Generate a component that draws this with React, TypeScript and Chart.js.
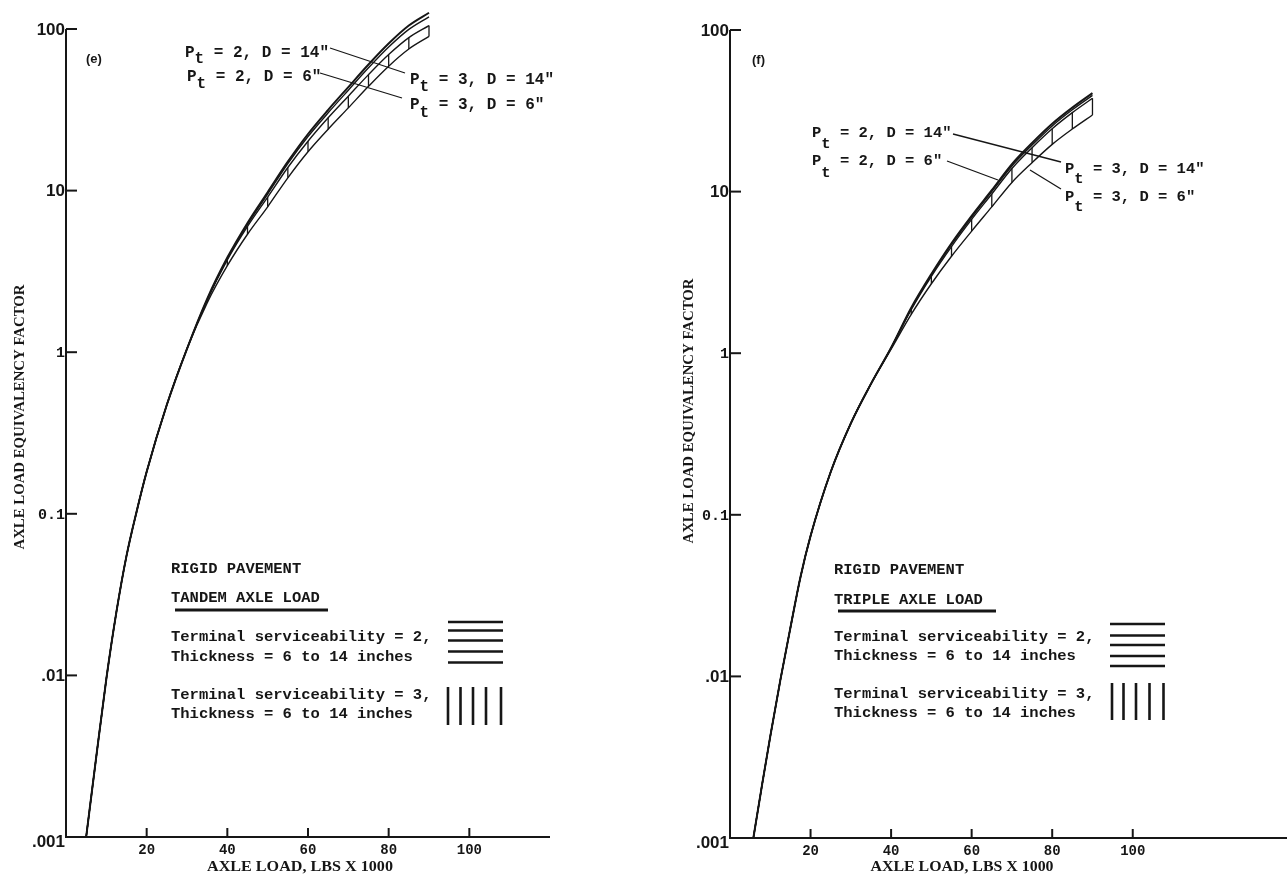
import React, { useEffect, useRef } from "react";
import { Chart, registerables } from "chart.js";

Chart.register(...registerables);

// ---------- shared axis data ----------
const xTickValues = [20, 40, 60, 80, 100];
const yTickValues = [0.001, 0.01, 0.1, 1, 10, 100];
const yTickLabels = [".001", ".01", "0.1", "1", "10", "100"];
const seriesNames = ['Pt = 2, D = 14"', 'Pt = 2, D = 6"', 'Pt = 3, D = 14"', 'Pt = 3, D = 6"'];

// ---------- (e) tandem axle ----------
const tandemLoads = [5, 7.5, 10, 12.5, 15, 17.5, 20, 25, 30, 35, 40, 45, 50, 55, 60, 65, 70, 75, 80, 85, 90];
const tandemPt2D14 = [0.001, 0.00313, 0.00951, 0.0247, 0.0549, 0.103, 0.182, 0.473, 1.05, 2.14, 3.85, 6.31, 9.77, 15.1, 22.4, 31.6, 43.7, 60.3, 81.3, 105, 126];
const tandemPt2D6 = [0.001, 0.00313, 0.00951, 0.0247, 0.0549, 0.103, 0.182, 0.473, 1.05, 2.12, 3.79, 6.18, 9.51, 14.7, 21.6, 30.3, 41.8, 57.5, 77.4, 99.5, 119];
const tandemPt3D14 = [0.001, 0.00313, 0.00951, 0.0247, 0.0549, 0.103, 0.182, 0.473, 1.05, 2.1, 3.72, 6.0, 9.12, 13.9, 20.2, 28.2, 38.4, 52.2, 69.5, 88.5, 105];
const tandemPt3D6 = [0.001, 0.00313, 0.00951, 0.0247, 0.0549, 0.103, 0.182, 0.473, 1.05, 2.02, 3.43, 5.37, 7.94, 12.0, 17.4, 24.0, 32.5, 44.2, 58.9, 75.2, 90];

// ---------- (f) triple axle ----------
const tripleLoads = [5.8, 8, 10, 12.5, 15, 17.5, 20, 25, 30, 35, 40, 45, 50, 55, 60, 65, 70, 75, 80, 85, 90];
const triplePt2D14 = [0.001, 0.00216, 0.00425, 0.00948, 0.02, 0.0412, 0.0739, 0.184, 0.368, 0.646, 1.08, 1.91, 3.09, 4.79, 7.08, 10.2, 14.8, 20.0, 26.3, 33.1, 40.7];
const triplePt2D6 = [0.001, 0.00216, 0.00425, 0.00948, 0.02, 0.0412, 0.0739, 0.184, 0.368, 0.646, 1.08, 1.89, 3.05, 4.71, 6.93, 10.0, 14.4, 19.4, 25.5, 32.1, 39.4];
const triplePt3D14 = [0.001, 0.00216, 0.00425, 0.00948, 0.02, 0.0412, 0.0739, 0.184, 0.368, 0.646, 1.08, 1.86, 2.99, 4.57, 6.73, 9.66, 13.9, 18.7, 24.5, 30.8, 37.8];
const triplePt3D6 = [0.001, 0.00216, 0.00425, 0.00948, 0.02, 0.0412, 0.0739, 0.184, 0.368, 0.646, 1.06, 1.74, 2.69, 3.98, 5.69, 8.04, 11.4, 15.1, 19.6, 24.4, 29.8];

// ---------- text ----------
const xTitle = "AXLE LOAD, LBS X 1000";
const yTitle = "AXLE LOAD EQUIVALENCY FACTOR";
const tandemLegend = ["RIGID PAVEMENT", "TANDEM AXLE LOAD", "Terminal serviceability = 2,", "Thickness = 6 to 14 inches", "Terminal serviceability = 3,", "Thickness = 6 to 14 inches"];
const tripleLegend = ["RIGID PAVEMENT", "TRIPLE AXLE LOAD", "Terminal serviceability = 2,", "Thickness = 6 to 14 inches", "Terminal serviceability = 3,", "Thickness = 6 to 14 inches"];

const INK = "#161616";
const MONO = '"Liberation Mono", "DejaVu Sans Mono", monospace';
const SANS = '"Liberation Sans", Arial, sans-serif';
const SERIF = '"Liberation Serif", "DejaVu Serif", serif';

type Panel = {
  tag: string;
  loads: number[];
  series: number[][];
  legend: string[];
  hatchFrom: number;
  left: number; // page x of canvas
  w: number;
  h: number;
  xMax: number;
  yAxisW: number;
  xAxisH: number;
  padTop: number;
  padRight: number;
  layout: any;
};

const tandemPanel: Panel = {
  tag: "(e)",
  loads: tandemLoads,
  series: [tandemPt2D14, tandemPt2D6, tandemPt3D14, tandemPt3D6],
  legend: tandemLegend,
  hatchFrom: 35,
  left: 0,
  w: 560,
  h: 876,
  xMax: 120,
  yAxisW: 66,
  xAxisH: 39,
  padTop: 29,
  padRight: 10,
  layout: {
    tagPos: [86, 59],
    ptSize: 16,
    pt: [
      { x: 185, b: 57, sb: 63, rest: " = 2, D = 14\"" },
      { x: 187, b: 81, sb: 88, rest: " = 2, D = 6\"" },
      { x: 410, b: 84, sb: 91, rest: " = 3, D = 14\"" },
      { x: 410, b: 109, sb: 117, rest: " = 3, D = 6\"" },
    ],
    leaders: [
      [330, 48, 405, 73],
      [320, 73, 402, 98],
    ],
    legX: 171,
    legB: [573, 602, 641, 661, 699, 718],
    underline: [175, 328, 610],
    hLines: { x1: 448, x2: 503, ys: [622, 630.5, 640.5, 651.5, 662.5] },
    vLines: { xs: [448, 460.5, 473, 486, 501], y1: 687, y2: 725 },
    xTitle: { cx: 300, cy: 867, w: 186 },
    yTitle: { cx: 20, cy: 417, w: 265 },
  },
};

const triplePanel: Panel = {
  tag: "(f)",
  loads: tripleLoads,
  series: [triplePt2D14, triplePt2D6, triplePt3D14, triplePt3D6],
  legend: tripleLegend,
  hatchFrom: 45,
  left: 640,
  w: 647,
  h: 876,
  xMax: 138.3,
  yAxisW: 90,
  xAxisH: 38,
  padTop: 30,
  padRight: 0,
  layout: {
    tagPos: [752, 60],
    ptSize: 15.5,
    pt: [
      { x: 812, b: 137, sb: 148, rest: " = 2, D = 14\"" },
      { x: 812, b: 165, sb: 177, rest: " = 2, D = 6\"" },
      { x: 1065, b: 173, sb: 183, rest: " = 3, D = 14\"" },
      { x: 1065, b: 201, sb: 211, rest: " = 3, D = 6\"" },
    ],
    leaders: [
      [953, 134, 1061, 162],
      [947, 161, 998, 180],
      [1030, 170, 1061, 189],
    ],
    legX: 834,
    legB: [574, 604, 641, 660, 698, 717],
    underline: [838, 996, 611],
    hLines: { x1: 1110, x2: 1165, ys: [624, 635.5, 645, 656, 666] },
    vLines: { xs: [1112, 1123.5, 1136, 1149.5, 1163.5], y1: 683, y2: 720 },
    xTitle: { cx: 962, cy: 867, w: 183 },
    yTitle: { cx: 689, cy: 411, w: 265 },
  },
};

function fitText(ctx: CanvasRenderingContext2D, text: string, cx: number, cy: number, width: number, font: string, rotate = false) {
  ctx.save();
  ctx.font = font;
  ctx.textAlign = "center";
  ctx.textBaseline = "middle";
  const w = ctx.measureText(text).width;
  ctx.translate(cx, cy);
  if (rotate) ctx.rotate(-Math.PI / 2);
  ctx.scale(width / w, 1);
  ctx.fillText(text, 0, 0);
  ctx.restore();
}

function decorPlugin(p: Panel) {
  return {
    id: "decor" + p.tag,
    afterDatasetsDraw(chart: any) {
      const ctx: CanvasRenderingContext2D = chart.ctx;
      const xs = chart.scales.x;
      const ys = chart.scales.y;
      const a = chart.chartArea;
      const L = p.layout;
      const ox = p.left;
      ctx.save();
      ctx.strokeStyle = INK;
      ctx.fillStyle = INK;
      ctx.lineCap = "butt";

      // vertical hatching between the two Pt = 3 curves
      ctx.lineWidth = 1.3;
      p.loads.forEach((ld, j) => {
        if (ld < p.hatchFrom) return;
        const x = xs.getPixelForValue(ld);
        ctx.beginPath();
        ctx.moveTo(x, ys.getPixelForValue(p.series[2][j]));
        ctx.lineTo(x, ys.getPixelForValue(p.series[3][j]));
        ctx.stroke();
      });

      // axes
      ctx.lineWidth = 2;
      ctx.beginPath();
      ctx.moveTo(a.left, a.top);
      ctx.lineTo(a.left, a.bottom);
      ctx.lineTo(a.right, a.bottom);
      ctx.stroke();

      // y ticks + labels
      yTickValues.forEach((v, i) => {
        const y = ys.getPixelForValue(v);
        if (i > 0) {
          ctx.beginPath();
          ctx.moveTo(a.left, y);
          ctx.lineTo(a.left + 11, y);
          ctx.stroke();
        }
        const lab = yTickLabels[i];
        const typed = lab === "1" || lab === "0.1";
        ctx.font = typed ? `bold 15px ${MONO}` : `bold 17px ${SANS}`;
        ctx.textAlign = "right";
        ctx.textBaseline = "middle";
        ctx.fillText(lab, a.left - 1, y + (i === 0 ? 5 : 1));
      });

      // x ticks + labels
      xTickValues.forEach((v) => {
        const x = xs.getPixelForValue(v);
        ctx.beginPath();
        ctx.moveTo(x, a.bottom);
        ctx.lineTo(x, a.bottom - 9);
        ctx.stroke();
        ctx.font = `bold 14px ${MONO}`;
        ctx.textAlign = "center";
        ctx.textBaseline = "middle";
        ctx.fillText(String(v), x, a.bottom + 13);
      });

      // axis titles
      fitText(ctx, xTitle, L.xTitle.cx - ox, L.xTitle.cy, L.xTitle.w, `bold 15px ${SERIF}`);
      fitText(ctx, yTitle, L.yTitle.cx - ox, L.yTitle.cy, L.yTitle.w, `bold 14px ${SERIF}`, true);

      // panel tag
      ctx.font = `bold 13px ${SANS}`;
      ctx.textAlign = "left";
      ctx.textBaseline = "middle";
      ctx.fillText(p.tag, L.tagPos[0] - ox, L.tagPos[1]);

      // curve labels with subscript t
      ctx.textBaseline = "alphabetic";
      ctx.font = `bold ${L.ptSize}px ${MONO}`;
      const cw = ctx.measureText("P").width;
      L.pt.forEach((t: any) => {
        ctx.fillText("P", t.x - ox, t.b);
        ctx.fillText("t", t.x - ox + cw, t.sb);
        ctx.fillText(t.rest, t.x - ox + 2 * cw, t.b);
      });
      ctx.lineWidth = 1.3;
      L.leaders.forEach((s: number[]) => {
        ctx.beginPath();
        ctx.moveTo(s[0] - ox, s[1]);
        ctx.lineTo(s[2] - ox, s[3]);
        ctx.stroke();
      });

      // legend block
      ctx.font = `bold 15.5px ${MONO}`;
      ctx.textAlign = "left";
      p.legend.forEach((s, i) => ctx.fillText(s, L.legX - ox, L.legB[i]));
      ctx.lineWidth = 3;
      ctx.beginPath();
      ctx.moveTo(L.underline[0] - ox, L.underline[2]);
      ctx.lineTo(L.underline[1] - ox, L.underline[2]);
      ctx.stroke();
      ctx.lineWidth = 2.6;
      L.hLines.ys.forEach((y: number) => {
        ctx.beginPath();
        ctx.moveTo(L.hLines.x1 - ox, y);
        ctx.lineTo(L.hLines.x2 - ox, y);
        ctx.stroke();
      });
      L.vLines.xs.forEach((x: number) => {
        ctx.beginPath();
        ctx.moveTo(x - ox, L.vLines.y1);
        ctx.lineTo(x - ox, L.vLines.y2);
        ctx.stroke();
      });
      ctx.restore();
    },
  };
}

function buildConfig(p: Panel): any {
  const datasets = p.series.map((vals, i) => ({
    label: seriesNames[i],
    data: p.loads.map((x, j) => ({ x, y: vals[j] })),
    borderColor: INK,
    borderWidth: i === 0 ? 2 : 1.4,
    pointRadius: 0,
    fill: false,
    cubicInterpolationMode: "monotone",
    clip: false,
  }));
  return {
    type: "line",
    data: { datasets },
    options: {
      animation: false,
      responsive: false,
      maintainAspectRatio: false,
      devicePixelRatio: 1,
      layout: { padding: { top: p.padTop, right: p.padRight, left: 0, bottom: 0 } },
      plugins: { legend: { display: false }, tooltip: { enabled: false }, title: { display: false } },
      scales: {
        x: {
          type: "linear",
          min: 0,
          max: p.xMax,
          grid: { display: false, drawTicks: false },
          border: { display: false },
          ticks: { display: false },
          afterFit: (s: any) => {
            s.height = p.xAxisH;
          },
        },
        y: {
          type: "logarithmic",
          min: 0.001,
          max: 100,
          grid: { display: false, drawTicks: false },
          border: { display: false },
          ticks: { display: false },
          afterFit: (s: any) => {
            s.width = p.yAxisW;
          },
        },
      },
    },
    plugins: [decorPlugin(p)],
  };
}

function PanelChart({ panel }: { panel: Panel }) {
  const ref = useRef<HTMLCanvasElement>(null);
  useEffect(() => {
    const chart = new Chart(ref.current as HTMLCanvasElement, buildConfig(panel));
    return () => chart.destroy();
  }, [panel]);
  return (
    <canvas
      ref={ref}
      width={panel.w}
      height={panel.h}
      style={{ position: "absolute", left: panel.left, top: 0, width: panel.w, height: panel.h }}
    />
  );
}

export default function App() {
  return (
    <div style={{ position: "absolute", left: 0, top: 0, width: 1287, height: 876, background: "#fff", overflow: "hidden" }}>
      <PanelChart panel={tandemPanel} />
      <PanelChart panel={triplePanel} />
    </div>
  );
}
